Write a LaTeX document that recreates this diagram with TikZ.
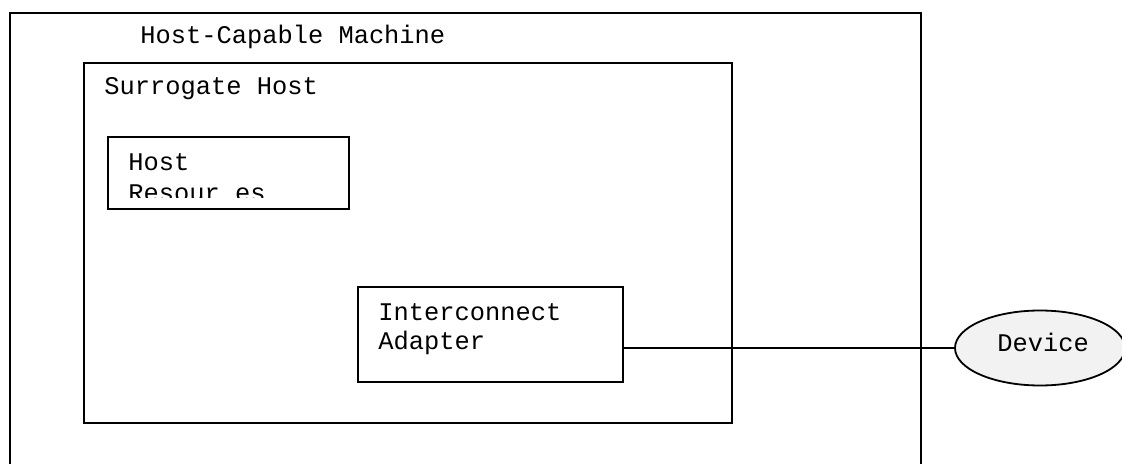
\documentclass[tikz,border=0pt]{standalone}
\usepackage{fontspec}
\setmonofont{Liberation Mono}
\usetikzlibrary{shapes.geometric}
\begin{document}
\begin{tikzpicture}[x=0.5pt,y=-0.5pt,
  box/.style={draw, line width=1pt, inner sep=0pt, anchor=north west},
  lbl/.style={anchor=base west, inner sep=0pt, font=\fontsize{12.7}{14}\selectfont\ttfamily},
  wire/.style={draw, line width=0.9pt}]
\useasboundingbox (0,0) rectangle (1122,464);
\clip (0,0) rectangle (1122,464);
% boxes
\node[box, minimum width=455.5pt, minimum height=236pt] (hcm) at (9,12) {};
\node[box, minimum width=324pt, minimum height=180pt] (sh) at (83,62) {};
\node[box, minimum width=120.5pt, minimum height=36pt] (hr) at (107,136) {};
\node[box, minimum width=132.5pt, minimum height=47.5pt] (ia) at (357,286) {};
\node[ellipse, draw, line width=0.9pt, fill=black!5, minimum width=85pt, minimum height=37.5pt, inner sep=0pt] (dev) at (1040,348) {};
% labels
\node[lbl] (thcm) at (140,44) {Host-Capable Machine};
\node[lbl] (tsh) at (104,95) {Surrogate Host};
\node[lbl] (thr1) at (128,171) {Host};
\begin{scope}
\clip (108,137) rectangle (347,198);
\node[lbl] (thr2) at (128,202) {Resour es};
\end{scope}
\node[lbl] (tia1) at (378,321) {Interconnect};
\node[lbl] (tia2) at (378,349) {Adapter};
\node[lbl] (tdev) at (997,351) {Device};
% connector
\draw[wire] (ia.east |- dev.west) -- (dev.west);
\end{tikzpicture}
\end{document}
